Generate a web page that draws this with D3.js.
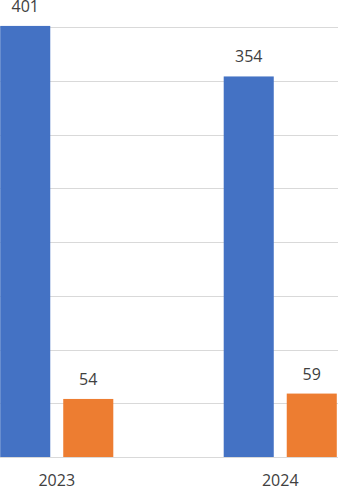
<!DOCTYPE html>
<html>
<head>
<meta charset="utf-8">
<script src="https://cdn.jsdelivr.net/npm/d3@7"></script>
<style>
  html, body { margin: 0; padding: 0; background: #fff; }
  svg { display: block; }
  text { font-family: "Open Sans", sans-serif; fill: #404040; }
</style>
</head>
<body>
<div class="chart-container"></div>
<script>
// data
const categories = ['2023', '2024'];
const seriesNames = ['A', 'B'];
const seriesA = [401, 354];
const seriesB = [54, 59];
const yTicks = [0, 50, 100, 150, 200, 250, 300, 350, 400];

const colors = {A: '#4472C4', B: '#ED7D31'};

const w = 338;
const h = 488;

const rows = categories.map((c, i) => ({cat: c, values: [
    {key: 'A', value: seriesA[i]},
    {key: 'B', value: seriesB[i]}
]}));

// plot area is wider than the window, the picture is a crop
const xScale = d3.scaleBand()
    .domain(categories)
    .range([-55, 392])
    .paddingInner(0.494)
    .paddingOuter(0.247);

const xInner = d3.scaleBand()
    .domain(seriesNames)
    .range([0, xScale.bandwidth()])
    .paddingInner(0.206);

const yScale = d3.scaleLinear()
    .domain([0, 400])
    .range([457, 27]);

const svg = d3.select('.chart-container')
    .append('svg')
    .attr('width', w)
    .attr('height', h);

// gridlines
svg.append('g')
    .attr('class', 'grid')
    .selectAll('line')
    .data(yTicks).enter()
    .append('line')
    .attr('x1', -55)
    .attr('x2', 392)
    .attr('y1', d => Math.round(yScale(d)) + 0.5)
    .attr('y2', d => Math.round(yScale(d)) + 0.5)
    .attr('stroke', '#d9d9d9')
    .attr('stroke-width', 1);

const groups = svg.append('g')
    .attr('class', 'bars')
    .selectAll('.bar-group')
    .data(rows).enter()
    .append('g')
    .attr('class', 'bar-group')
    .attr('transform', d => 'translate(' + xScale(d.cat) + ',0)');

groups.selectAll('rect')
    .data(d => d.values).enter()
    .append('rect')
    .attr('x', d => xInner(d.key))
    .attr('y', d => yScale(d.value))
    .attr('width', xInner.bandwidth())
    .attr('height', d => yScale(0) - yScale(d.value))
    .attr('fill', d => colors[d.key]);

// value labels
groups.selectAll('.value')
    .data(d => d.values).enter()
    .append('text')
    .attr('class', 'value')
    .attr('x', d => xInner(d.key) + xInner.bandwidth() / 2)
    .attr('y', d => yScale(d.value) - 14)
    .attr('text-anchor', 'middle')
    .style('font-size', '16px')
    .text(d => d.value);

// category labels
const xAxis = d3.axisBottom(xScale).tickSize(0).tickPadding(0);
const ax = svg.append('g')
    .attr('class', 'x-axis')
    .attr('transform', 'translate(0,' + 457 + ')')
    .call(xAxis);
ax.select('.domain').remove();
ax.selectAll('.tick text')
    .attr('y', 29)
    .attr('dy', 0)
    .style('font-size', '16px')
    .style('font-family', '"Open Sans", sans-serif')
    .attr('fill', '#404040');
</script>
</body>
</html>
